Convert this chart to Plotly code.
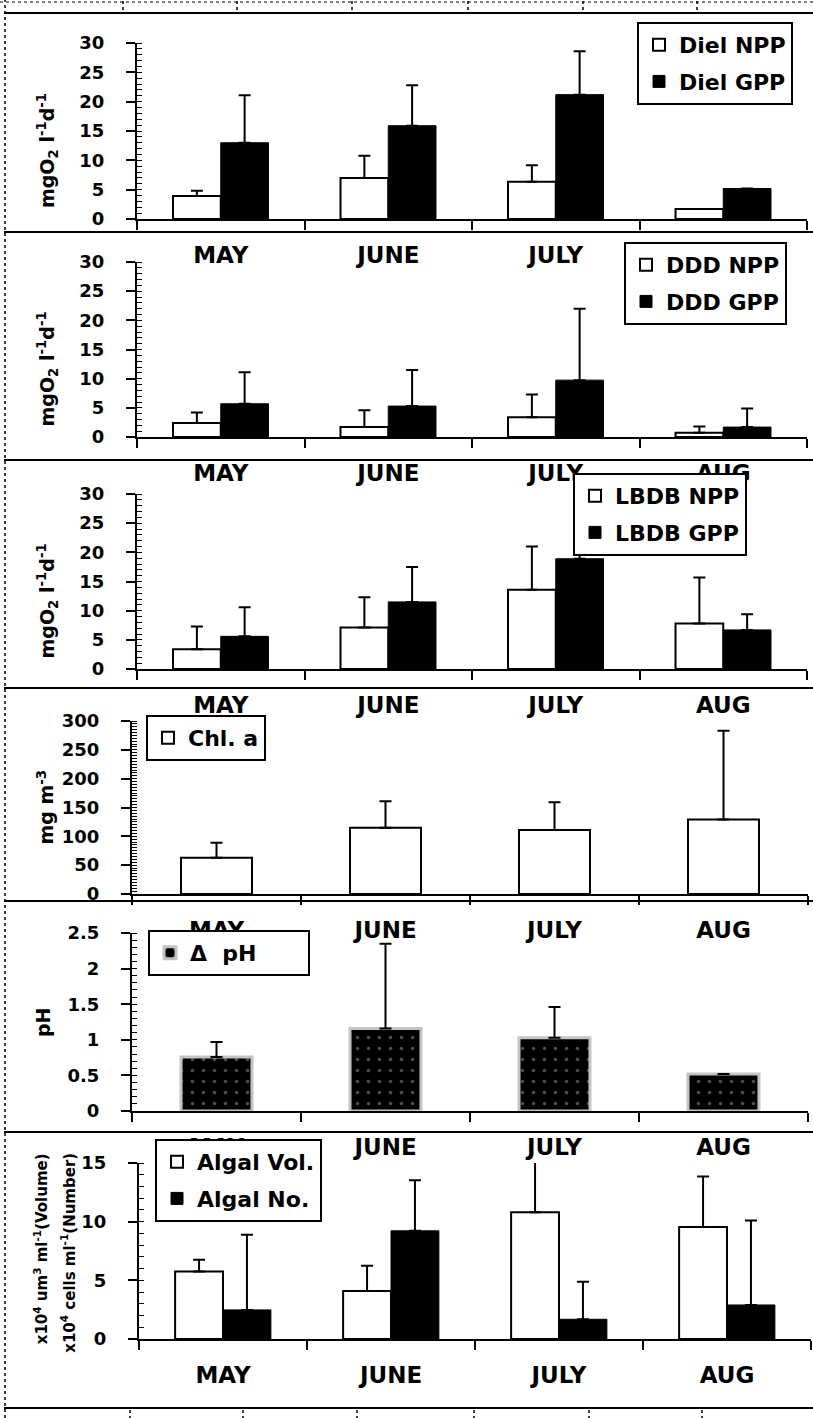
import plotly.graph_objects as go

# ---------------- data ----------------
months = ["MAY", "JUNE", "JULY", "AUG"]

diel_npp = [3.9, 7.0, 6.35, 1.7]
diel_npp_err = [0.9, 3.8, 2.8, 0]
diel_gpp = [13.0, 15.9, 21.2, 5.2]
diel_gpp_err = [8.1, 6.9, 7.4, 0]

ddd_npp = [2.4, 1.7, 3.4, 0.75]
ddd_npp_err = [1.8, 2.9, 3.9, 1.05]
ddd_gpp = [5.7, 5.3, 9.75, 1.7]
ddd_gpp_err = [5.4, 6.2, 12.25, 3.2]

lbdb_npp = [3.4, 7.1, 13.6, 7.8]
lbdb_npp_err = [3.9, 5.2, 7.4, 7.9]
lbdb_gpp = [5.6, 11.5, 18.9, 6.7]
lbdb_gpp_err = [5.0, 6.0, 5.0, 2.7]

chla = [63, 115, 111, 129]
chla_err = [26, 46, 48, 154]

dph = [0.76, 1.16, 1.03, 0.52]
dph_err = [0.21, 1.19, 0.43, 0]

algal_vol = [5.75, 4.1, 10.8, 9.55]
algal_vol_err = [1.0, 2.15, 4.65, 4.3]
algal_no = [2.48, 9.22, 1.68, 2.9]
algal_no_err = [6.4, 4.3, 3.2, 7.2]

# ---------------- layout geometry (pixels) ----------------
W, H = 813, 1418
# (y of top of range, y of zero line, x left, x right)
panels = [
    (43, 219, 137, 807),
    (262, 437, 137, 807),
    (494, 669, 137, 807),
    (721, 894, 132, 808),
    (933, 1111, 132, 808),
    (1163, 1339, 139, 811),
]
yranges = [30, 30, 30, 300, 2.5, 15]
ydticks = [5, 5, 5, 50, 0.5, 5]
yminor = [1, 1, 1, 5, 0.1, 1]

FONT = "DejaVu Sans"
WHITE_BAR = dict(color="white", line=dict(color="black", width=2))
BLACK_BAR = dict(color="black", line=dict(color="black", width=1))


def err(vals):
    return dict(type="data", array=vals, arrayminus=[0] * len(vals), symmetric=False,
                color="black", thickness=2, width=6)


def ax(i):
    return ("x" if i == 1 else f"x{i}"), ("y" if i == 1 else f"y{i}")


def lg(i):
    return "legend" if i == 1 else f"legend{i}"


fig = go.Figure()

pairs = [
    (1, "Diel NPP", diel_npp, diel_npp_err, WHITE_BAR),
    (1, "Diel GPP", diel_gpp, diel_gpp_err, BLACK_BAR),
    (2, "DDD NPP", ddd_npp, ddd_npp_err, WHITE_BAR),
    (2, "DDD GPP", ddd_gpp, ddd_gpp_err, BLACK_BAR),
    (3, "LBDB NPP", lbdb_npp, lbdb_npp_err, WHITE_BAR),
    (3, "LBDB GPP", lbdb_gpp, lbdb_gpp_err, BLACK_BAR),
    (6, "Algal Vol.", algal_vol, algal_vol_err, WHITE_BAR),
    (6, "Algal No.", algal_no, algal_no_err, BLACK_BAR),
]
for k, (i, name, vals, e, mk) in enumerate(pairs):
    xa, ya = ax(i)
    fig.add_trace(go.Bar(x=months, y=vals, name=name, marker=mk, error_y=err(e),
                         xaxis=xa, yaxis=ya, legend=lg(i), legendgroup=f"g{k}",
                         offsetgroup=name))

xa, ya = ax(4)
fig.add_trace(go.Bar(x=months, y=chla, name="Chl. a", marker=WHITE_BAR, error_y=err(chla_err),
                     xaxis=xa, yaxis=ya, legend=lg(4), width=0.42))
xa, ya = ax(5)
fig.add_trace(go.Bar(x=months, y=dph, name="\u0394  pH" + "\u00a0" * 6,
                     marker=dict(color="black", line=dict(color="#c4c4c4", width=3),
                                 pattern=dict(shape=".", bgcolor="black", fgcolor="#9a9a9a",
                                              size=11, solidity=0.08)),
                     error_y=err(dph_err), xaxis=xa, yaxis=ya, legend=lg(5), width=0.42))

layout = dict(
    width=W, height=H, margin=dict(l=0, r=0, t=0, b=0, pad=0, autoexpand=False),
    paper_bgcolor="white", plot_bgcolor="rgba(0,0,0,0)",
    barmode="group", bargap=0.43, bargroupgap=0,
    showlegend=True, font=dict(family=FONT, color="black"),
)

annotations = []
shapes = []
for i, (yt, y0, xl, xr) in enumerate(panels, start=1):
    xk = "xaxis" if i == 1 else f"xaxis{i}"
    yk = "yaxis" if i == 1 else f"yaxis{i}"
    xa, ya = ax(i)
    xdom = [xl / W, xr / W]
    ydom = [1 - y0 / H, 1 - yt / H]
    layout[xk] = dict(
        domain=xdom, anchor=ya, type="category", categoryarray=months,
        range=[-0.5, len(months) - 0.5], tickson="boundaries", automargin=False,
        showline=True, linecolor="black", linewidth=2,
        ticks="outside", ticklen=9, tickwidth=2, tickcolor="black",
        ticklabelstandoff=14,
        tickfont=dict(family=FONT, size=23, color="black", weight="bold"),
        showgrid=False, zeroline=False, fixedrange=True,
    )
    # overlay axis giving the upward half of the category boundary ticks
    ok = f"xaxis{i + 6}"
    layout[ok] = dict(
        domain=xdom, anchor=ya, overlaying=xa, type="linear", automargin=False,
        range=[-0.5, len(months) - 0.5],
        tickvals=[k + 0.5 for k in range(len(months))],
        ticks="inside", ticklen=8, tickwidth=2, tickcolor="black",
        showticklabels=False, showline=False, showgrid=False, zeroline=False,
    )
    layout[yk] = dict(
        domain=ydom, anchor=xa, range=[0, yranges[i - 1]], dtick=ydticks[i - 1], tick0=0,
        showline=True, linecolor="black", linewidth=2, automargin=False,
        ticks="outside", ticklen=9, tickwidth=2, tickcolor="black",
        ticklabelstandoff=18,
        tickfont=dict(family=FONT, size=18, color="black", weight="bold"),
        minor=dict(ticks="inside", ticklen=5, tickwidth=1, tickcolor="black",
                   dtick=yminor[i - 1], tick0=0, showgrid=False),
        showgrid=False, zeroline=False, fixedrange=True,
    )

# y titles: (panel, text, x px, y fraction of panel, font size)
ytitles = [
    (1, "mgO<sub>2</sub> l<sup>-1</sup>d<sup>-1</sup>", 47, 0.386, 19),
    (2, "mgO<sub>2</sub> l<sup>-1</sup>d<sup>-1</sup>", 47, 0.386, 19),
    (3, "mgO<sub>2</sub> l<sup>-1</sup>d<sup>-1</sup>", 47, 0.386, 19),
    (4, "mg m<sup>-3</sup>", 45, 0.50, 19),
    (5, "pH", 43, 0.50, 19),
    (6, "x10<sup>4</sup> um<sup>3</sup> ml<sup>-1</sup>(Volume)", 41, 0.51, 15),
    (6, "x10<sup>4</sup> cells ml<sup>-1</sup>(Number)", 68, 0.49, 15),
]
for i, txt, xp, yf, fs in ytitles:
    yref = "y domain" if i == 1 else f"y{i} domain"
    annotations.append(dict(text=f"<b>{txt}</b>", xref="paper", yref=yref, x=xp / W, y=yf,
                            textangle=-90, showarrow=False, xanchor="center", yanchor="middle",
                            font=dict(family=FONT, size=fs, color="black")))

# legends
legend_pos = [(637, 22), (624, 242), (573, 473), (146, 715), (148, 930), (155, 1139)]
for i, (lx, ly) in enumerate(legend_pos, start=1):
    layout[lg(i)] = dict(
        x=lx / W, y=1 - ly / H, xanchor="left", yanchor="top",
        bgcolor="white", bordercolor="black", borderwidth=2,
        font=dict(family=FONT, size=22, color="black", weight="bold"),
        traceorder="grouped", tracegroupgap=5, itemclick=False, itemdoubleclick=False,
    )

# page frame from the scanned sheet
seps = [13, 232, 460, 688, 901, 1132, 1408]
for s in seps:
    shapes.append(dict(type="line", xref="paper", yref="paper", x0=4 / W, x1=1,
                       y0=1 - s / H, y1=1 - s / H, line=dict(color="black", width=2)))
shapes.append(dict(type="line", xref="paper", yref="paper", x0=5 / W, x1=5 / W,
                   y0=0, y1=1, line=dict(color="black", width=1.5, dash="dot")))
shapes.append(dict(type="line", xref="paper", yref="paper", x0=0, x1=1,
                   y0=1 - 2 / H, y1=1 - 2 / H, line=dict(color="black", width=1, dash="dot")))
for tx in [123, 237, 352, 468, 583, 697]:
    shapes.append(dict(type="line", xref="paper", yref="paper", x0=tx / W, x1=tx / W,
                       y0=1 - 1 / H, y1=1 - 12 / H, line=dict(color="black", width=1.5, dash="dot")))
for tx in [130, 243, 357, 474, 589, 702]:
    shapes.append(dict(type="line", xref="paper", yref="paper", x0=tx / W, x1=tx / W,
                       y0=1 - 1410 / H, y1=0, line=dict(color="black", width=1.5, dash="dot")))

layout["annotations"] = annotations
layout["shapes"] = shapes
fig.update_layout(**layout)
fig.write_html(
    "out.html",
    config={"displayModeBar": False},
    post_script="document.body.style.margin='0';document.body.style.overflow='hidden';"
                "document.documentElement.style.overflow='hidden';",
)
